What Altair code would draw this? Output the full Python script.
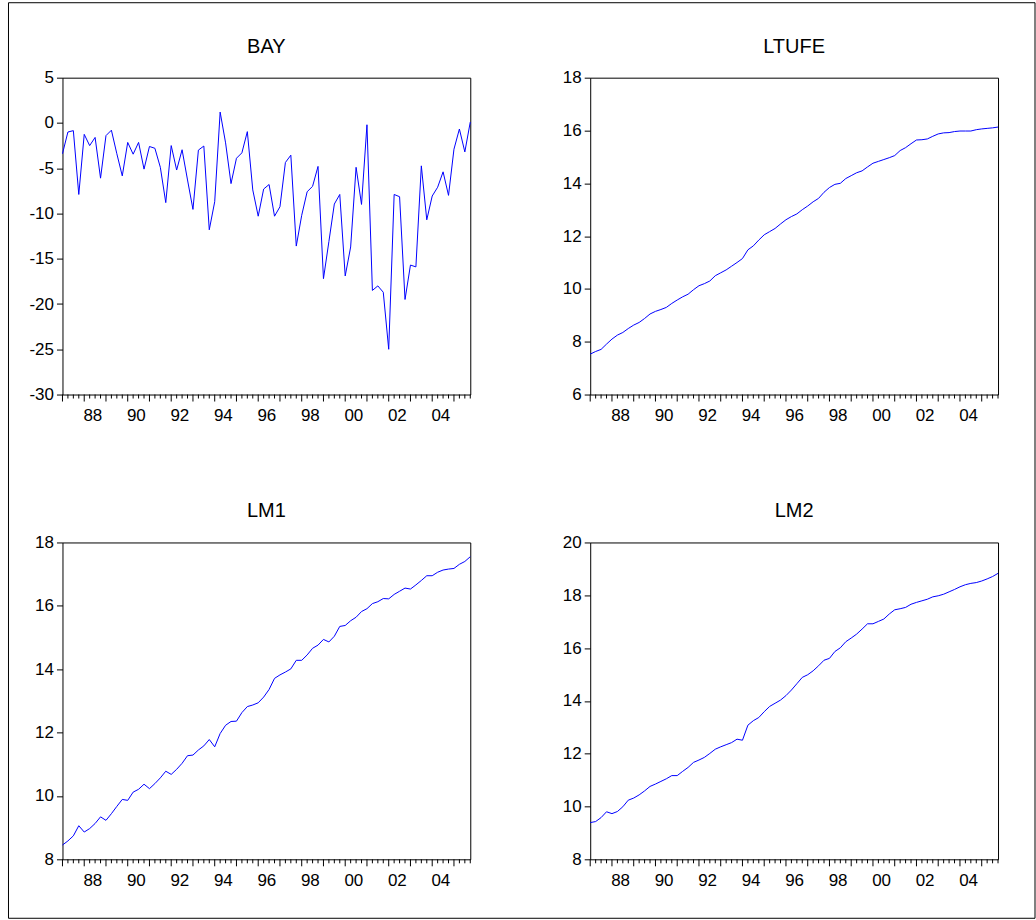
import altair as alt
import pandas as pd

years = list(range(1987, 2006))
quarters = [1, 2, 3, 4]

BAY = [-3.4, -1.0, -0.85, -7.9,
       -1.26, -2.5, -1.6, -6.1,
       -1.4, -0.8, -3.4, -5.85,
       -2.15, -3.45, -2.15, -5.1,
       -2.6, -2.8, -4.9, -8.8,
       -2.5, -5.2, -2.96, -6.3,
       -9.55, -3.0, -2.55, -11.8,
       -8.7, 1.2, -2.2, -6.7,
       -3.9, -3.3, -0.96, -7.4,
       -10.3, -7.3, -6.8, -10.3,
       -9.26, -4.37, -3.56, -13.6,
       -10.2, -7.6, -7.0, -4.8,
       -17.2, -13.1, -8.96, -7.9,
       -16.9, -13.7, -4.9, -9.0,
       -0.2, -18.5, -18.0, -18.7,
       -25.0, -7.9, -8.15, -19.5,
       -15.7, -15.9, -4.74, -10.7,
       -8.07, -7.1, -5.4, -8.0,
       -2.9, -0.67, -3.2, 0.1]

LTUFE = [7.53, 7.63, 7.71, 7.91,
         8.10, 8.25, 8.35, 8.50,
         8.63, 8.73, 8.88, 9.05,
         9.15, 9.22, 9.30, 9.45,
         9.58, 9.70, 9.80, 9.97,
         10.12, 10.20, 10.30, 10.50,
         10.61, 10.72, 10.86, 11.00,
         11.15, 11.48, 11.63, 11.85,
         12.05, 12.17, 12.29, 12.46,
         12.62, 12.74, 12.84, 13.00,
         13.14, 13.30, 13.43, 13.66,
         13.84, 13.96, 14.00, 14.18,
         14.29, 14.40, 14.47, 14.62,
         14.76, 14.83, 14.90, 14.97,
         15.05, 15.24, 15.35, 15.50,
         15.64, 15.65, 15.68, 15.78,
         15.87, 15.91, 15.92, 15.96,
         15.98, 15.98, 15.98, 16.03,
         16.06, 16.08, 16.10, 16.13]

LM1 = [8.45, 8.58, 8.74, 9.06,
       8.86, 8.97, 9.13, 9.34,
       9.23, 9.44, 9.67, 9.89,
       9.86, 10.12, 10.21, 10.37,
       10.23, 10.39, 10.57, 10.78,
       10.68, 10.84, 11.03, 11.27,
       11.29, 11.45, 11.58, 11.78,
       11.55, 11.97, 12.23, 12.35,
       12.36, 12.63, 12.82, 12.87,
       12.94, 13.12, 13.36, 13.71,
       13.82, 13.91, 14.01, 14.28,
       14.28, 14.45, 14.66, 14.76,
       14.94, 14.86, 15.04, 15.35,
       15.38, 15.53, 15.64, 15.82,
       15.91, 16.07, 16.13, 16.23,
       16.22, 16.36, 16.46, 16.56,
       16.53, 16.66, 16.80, 16.95,
       16.95, 17.06, 17.13, 17.16,
       17.18, 17.31, 17.40, 17.55]

LM2 = [9.39, 9.43, 9.58, 9.80,
       9.73, 9.81, 9.99, 10.24,
       10.32, 10.44, 10.59, 10.76,
       10.85, 10.95, 11.05, 11.17,
       11.17, 11.33, 11.48, 11.67,
       11.76, 11.86, 12.01, 12.17,
       12.26, 12.34, 12.42, 12.55,
       12.51, 13.08, 13.25, 13.37,
       13.59, 13.79, 13.91, 14.03,
       14.20, 14.41, 14.65, 14.89,
       14.99, 15.14, 15.33, 15.54,
       15.61, 15.87, 16.01, 16.24,
       16.38, 16.53, 16.72, 16.92,
       16.92, 17.01, 17.10, 17.29,
       17.45, 17.49, 17.54, 17.66,
       17.73, 17.79, 17.85, 17.94,
       17.98, 18.04, 18.13, 18.22,
       18.32, 18.40, 18.45, 18.48,
       18.54, 18.62, 18.71, 18.83]

label_years = list(range(1988, 2006, 2))

panels = [
    ("BAY", BAY, [-30, 5], list(range(-30, 6, 5))),
    ("LTUFE", LTUFE, [6, 18], list(range(6, 19, 2))),
    ("LM1", LM1, [8, 18], list(range(8, 19, 2))),
    ("LM2", LM2, [8, 20], list(range(8, 21, 2))),
]

t = [y + (q - 1) / 4 for y in years for q in quarters]
qcol = [q for y in years for q in quarters]

W, H = 408, 317
FONT = "Liberation Sans"
BLUE = "#0000FF"
LABEL_SIZE = 17

x_scale = alt.Scale(domain=[1987.0, 2005.75], nice=False, zero=False)
label_pos = [y + 0.375 for y in label_years]
x_axis = alt.Axis(
    values=label_pos,
    labelExpr="(floor(datum.value) % 100 < 10 ? '0' : '') + (floor(datum.value) % 100)",
    tickSize=0, domain=False, grid=False, title=None,
    labelFont=FONT, labelFontSize=LABEL_SIZE, labelColor="black", labelPadding=13,
    labelFlush=False, labelOverlap=False,
)

ticks_df = pd.DataFrame({"t": t, "q": qcol})


def panel(name, values, domain, yticks, border=False):
    df = pd.DataFrame({"t": t, "v": values})
    y_axis = alt.Axis(
        values=yticks, tickSize=6, tickColor="black", tickWidth=1,
        domain=False, grid=False, title=None,
        labelExpr="'' + datum.value",
        labelFont=FONT, labelFontSize=LABEL_SIZE, labelColor="black", labelPadding=3,
        labelFlush=False, labelOverlap=False,
    )
    line = alt.Chart(df).mark_line(color=BLUE, strokeWidth=1).encode(
        x=alt.X("t:Q", scale=x_scale, axis=x_axis),
        y=alt.Y("v:Q", scale=alt.Scale(domain=domain, nice=False, zero=False), axis=y_axis),
    )
    base_ticks = alt.Chart(ticks_df)
    minor = base_ticks.transform_filter("datum.q != 1").mark_rule(color="black", strokeWidth=1).encode(
        x=alt.X("t:Q", scale=x_scale),
        y=alt.value(H), y2=alt.value(H + 4),
    )
    major = base_ticks.transform_filter("datum.q == 1").mark_rule(color="black", strokeWidth=1).encode(
        x=alt.X("t:Q", scale=x_scale),
        y=alt.value(H), y2=alt.value(H + 7),
    )
    title = alt.Chart(alt.Data(values=[{"name": name}])).mark_text(
        font=FONT, fontSize=20, color="black", align="center", baseline="alphabetic"
    ).encode(
        x=alt.value(W / 2), y=alt.value(-25), text="name:N",
    )
    layers = [minor, major, line, title]
    if border:
        frame = alt.Chart(alt.Data(values=[{"a": 1}])).mark_rect(
            fillOpacity=0, stroke="black", strokeWidth=1
        ).encode(
            x=alt.value(8 - 62), x2=alt.value(1035 - 62),
            y=alt.value(2 - 77), y2=alt.value(918 - 77),
        )
        layers = [frame] + layers
    return alt.layer(*layers).properties(width=W, height=H)


charts = [panel(n, v, d, yt, border=(i == 0)) for i, (n, v, d, yt) in enumerate(panels)]

chart = alt.concat(*charts, columns=2, spacing={"row": 148, "column": 120}, bounds="flush").properties(
    padding={"left": 7.5, "top": 1.5, "right": 0, "bottom": 0},
    background="white",
).configure_view(stroke="black", strokeWidth=1)

chart.save("out.html", embed_options={"renderer": "svg", "actions": False})
